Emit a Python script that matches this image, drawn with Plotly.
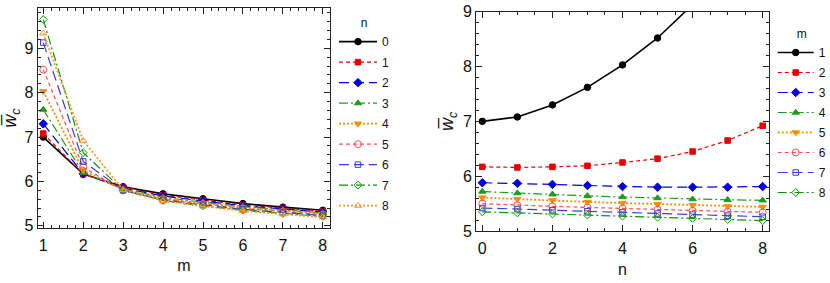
import plotly.graph_objects as go

# ---------------- data ----------------
m_vals = [1, 2, 3, 4, 5, 6, 7, 8]
n_vals = [0, 1, 2, 3, 4, 5, 6, 7, 8]

# w_c(m, n) for n = 0..8, one list per m
w_m1 = [7.00, 7.08, 7.30, 7.62, 8.03, 8.52, 9.13, 9.65, 9.34]
w_m2 = [6.17, 6.16, 6.17, 6.19, 6.25, 6.32, 6.45, 6.65, 6.92]
w_m3 = [5.88, 5.87, 5.85, 5.83, 5.81, 5.80, 5.80, 5.80, 5.81]
w_m4 = [5.72, 5.69, 5.67, 5.64, 5.62, 5.60, 5.58, 5.57, 5.56]
w_m5 = [5.61, 5.58, 5.56, 5.53, 5.51, 5.49, 5.47, 5.45, 5.44]
w_m6 = [5.50, 5.47, 5.45, 5.43, 5.41, 5.39, 5.37, 5.35, 5.34]
w_m7 = [5.42, 5.40, 5.38, 5.36, 5.34, 5.32, 5.30, 5.28, 5.26]
w_m8 = [5.35, 5.33, 5.31, 5.29, 5.27, 5.25, 5.23, 5.21, 5.19]
w_by_m = [w_m1, w_m2, w_m3, w_m4, w_m5, w_m6, w_m7, w_m8]

left_yticks = [5, 6, 7, 8, 9]
right_xticks = [0, 2, 4, 6, 8]
right_yticks = [5, 6, 7, 8, 9]

# ---------------- styles ----------------
styles = [
    dict(color="#000000", dash="solid", symbol="circle", size=6.5, width=1.6),
    dict(color="#e60000", dash="4px,3px", symbol="square", size=5.5, width=1.2),
    dict(color="#0000dc", dash="10px,5px", symbol="diamond", size=6.5, width=1.2),
    dict(color="#1e9a1e", dash="9px,3px,2px,3px", symbol="triangle-up", size=6.5, width=1.2),
    dict(color="#ff8c00", dash="2px,2px", symbol="triangle-down", size=6.5, width=1.8),
    dict(color="#ff5050", dash="4px,3px", symbol="circle-open", size=7, width=1.2),
    dict(color="#3c3cdc", dash="10px,5px", symbol="square-open", size=5.5, width=1.2),
    dict(color="#0a960a", dash="9px,3px,2px,3px", symbol="diamond-open", size=6, width=1.2),
    dict(color="#ff9628", dash="2px,2px", symbol="triangle-up-open", size=6.5, width=1.8),
]

fig = go.Figure()

# left panel: x = m, one curve per n
for n in n_vals:
    s = styles[n]
    fig.add_trace(go.Scatter(
        x=m_vals, y=[w[n] for w in w_by_m], mode="lines+markers",
        name=str(n), legend="legend", legendgroup="n%d" % n, xaxis="x", yaxis="y",
        line=dict(color=s["color"], dash=s["dash"], width=s["width"]),
        marker=dict(symbol=s["symbol"], size=s["size"], color=s["color"],
                    line=dict(color=s["color"], width=1)),
    ))

# right panel: x = n, one curve per m
for k, m in enumerate(m_vals):
    s = styles[k]
    fig.add_trace(go.Scatter(
        x=n_vals, y=w_by_m[k], mode="lines+markers",
        name=str(m), legend="legend2", legendgroup="m%d" % m, xaxis="x2", yaxis="y2",
        line=dict(color=s["color"], dash=s["dash"], width=s["width"]),
        marker=dict(symbol=s["symbol"], size=s["size"], color=s["color"],
                    line=dict(color=s["color"], width=1)),
    ))

font_family = "Liberation Sans, Arial, sans-serif"
axis_common = dict(
    showline=True, linecolor="#222", linewidth=1, mirror="allticks",
    ticks="inside", ticklen=6, tickwidth=1, tickcolor="#222",
    showgrid=False, zeroline=False,
    tickfont=dict(size=16, color="#111", family=font_family),
)
ytitle = "<i>w̅</i><sub><i>c</i></sub>"

fig.update_layout(
    width=830, height=283,
    margin=dict(l=0, r=0, t=0, b=0, autoexpand=False),
    paper_bgcolor="white", plot_bgcolor="white",
    font=dict(family=font_family, color="#111"),
    xaxis=dict(domain=[0.0454, 0.3976], range=[0.86, 8.18],
               tickvals=m_vals, anchor="y",
               minor=dict(ticks="inside", ticklen=3, dtick=0.2, tick0=0, tickcolor="#222"),
               title=dict(text="m", font=dict(size=16), standoff=6),
               ticklabelstandoff=3,
               **axis_common),
    yaxis=dict(domain=[0.1943, 0.9717], range=[4.95, 9.91],
               tickvals=left_yticks, anchor="x",
               minor=dict(ticks="inside", ticklen=3, dtick=0.2, tick0=0, tickcolor="#222"),
               title=dict(text=ytitle, font=dict(size=18), standoff=4),
               **axis_common),
    xaxis2=dict(domain=[0.5735, 0.9265], range=[-0.18, 8.18],
                tickvals=right_xticks, anchor="y2",
                minor=dict(ticks="inside", ticklen=3, dtick=0.5, tick0=0, tickcolor="#222"),
                title=dict(text="n", font=dict(size=16), standoff=7),
                ticklabelstandoff=3,
                **axis_common),
    yaxis2=dict(domain=[0.1837, 0.9587], range=[5.0, 9.0],
                tickvals=right_yticks, anchor="x2",
                minor=dict(ticks="inside", ticklen=3, dtick=0.2, tick0=0, tickcolor="#222"),
                title=dict(text=ytitle, font=dict(size=18), standoff=4),
                **axis_common),
    legend=dict(x=0.4024, y=0.59, xanchor="left", yanchor="middle",
                bgcolor="rgba(0,0,0,0)", borderwidth=0, itemwidth=38,
                traceorder="grouped", tracegroupgap=1.5,
                font=dict(size=12), title=dict(text="n", side="top center", font=dict(size=12))),
    legend2=dict(x=0.931, y=0.594, xanchor="left", yanchor="middle",
                 bgcolor="rgba(0,0,0,0)", borderwidth=0, itemwidth=36,
                 traceorder="grouped", tracegroupgap=1.0,
                 font=dict(size=12), title=dict(text="m", side="top center", font=dict(size=12))),
    showlegend=True,
)

fig.write_html(
    "out.html",
    config={"displayModeBar": False},
    post_script="document.body.style.margin='0';document.body.style.overflow='hidden';",
)
